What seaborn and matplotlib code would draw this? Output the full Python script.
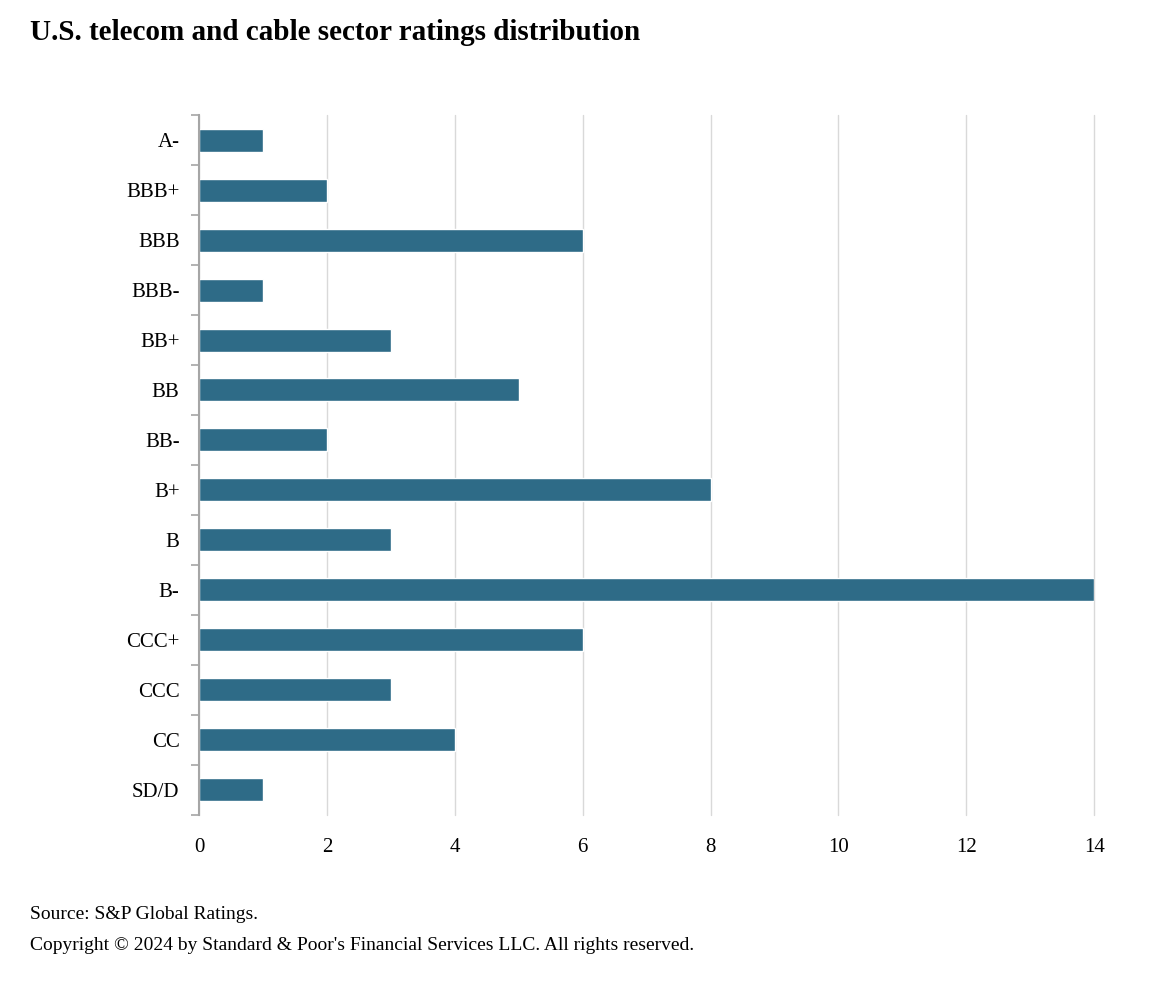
import numpy as np
import pandas as pd
import matplotlib
matplotlib.use("Agg")
import matplotlib.pyplot as plt
import seaborn as sns

ratings = ["A-", "BBB+", "BBB", "BBB-", "BB+", "BB", "BB-", "B+", "B", "B-",
           "CCC+", "CCC", "CC", "SD/D"]
counts = [1, 2, 6, 1, 3, 5, 2, 8, 3, 14, 6, 3, 4, 1]
x_ticks = [0, 2, 4, 6, 8, 10, 12, 14]

df = pd.DataFrame({"rating": ratings, "count": counts})

sns.set_style("white")
plt.rcParams['font.family'] = ['Liberation Serif', 'DejaVu Serif']
plt.rcParams['text.color'] = 'black'

fig = plt.figure(figsize=(11.64, 9.84), dpi=100)
ax = fig.add_axes([0.171, 0.172, 0.769, 0.711])

sns.barplot(data=df, x="count", y="rating", orient="h", color="#2E6B87",
            saturation=1, width=0.46, ax=ax)

ax.set_xlim(0, 14)
ax.set_ylim(len(ratings) - 0.5, -0.5)
ax.set_xticks(x_ticks)
ax.set_xticklabels([str(v) for v in x_ticks])
ax.tick_params(axis="x", length=0, pad=17, labelsize=15, labelcolor="black")
ax.tick_params(axis="y", which="major", length=0, pad=14, labelsize=15,
               labelcolor="black")
ax.set_yticks(np.arange(-0.5, len(ratings), 1), minor=True)
ax.tick_params(axis="y", which="minor", left=True, length=6, width=1.2,
               color="#A6A6A6")
ax.xaxis.grid(True, color="#D9D9D9", linewidth=1)
for gl in ax.get_xgridlines():
    gl.set_clip_on(False)
ax.set_axisbelow(True)
ax.set_xlabel("")
ax.set_ylabel("")
for side in ["top", "right", "bottom"]:
    ax.spines[side].set_visible(False)
ax.spines["left"].set_color("#A6A6A6")
ax.spines["left"].set_linewidth(1.5)

fig.text(0.026, 0.967, "U.S. telecom and cable sector ratings distribution",
         fontsize=21, fontweight="bold", va="center", ha="left")
fig.text(0.026, 0.071, "Source: S&P Global Ratings.", fontsize=14,
         va="center", ha="left")
fig.text(0.026, 0.039,
         "Copyright \u00a9 2024 by Standard & Poor's Financial Services LLC. All rights reserved.",
         fontsize=14, va="center", ha="left")

fig.savefig("out.png", dpi=100)
